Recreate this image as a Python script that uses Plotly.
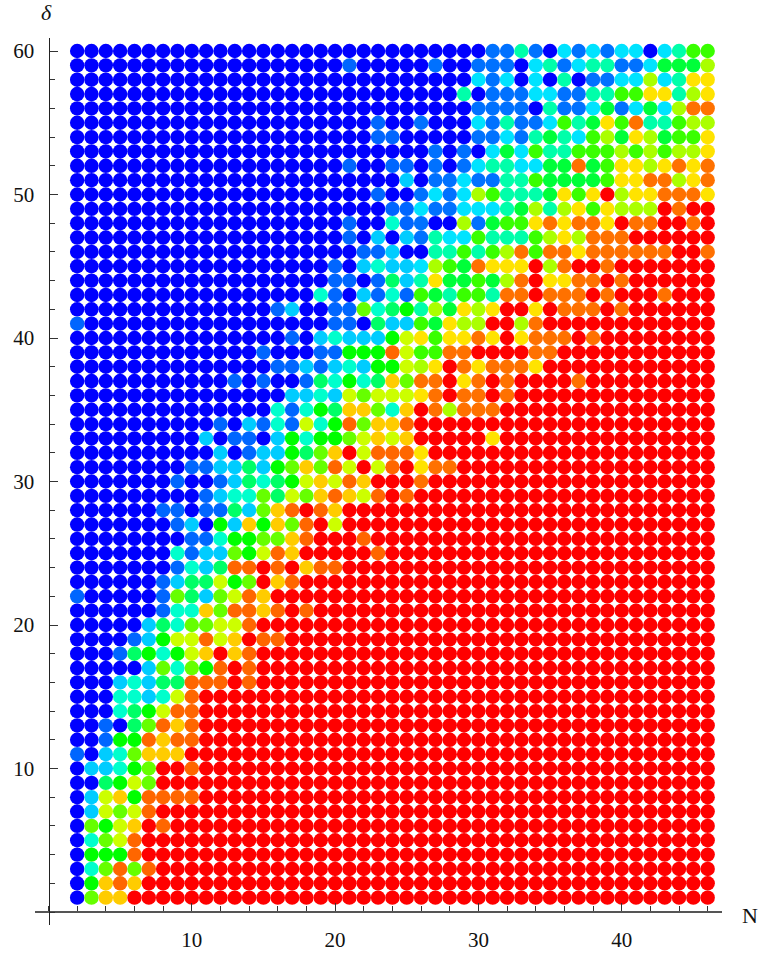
import plotly.graph_objects as go

N_VALUES = list(range(2, 47))
DELTA_VALUES = list(range(60, 0, -1))
X_TICKS = [10, 20, 30, 40]
Y_TICKS = [10, 20, 30, 40, 50, 60]
X_TITLE = "N"
Y_TITLE = "δ"

# Scores for N = 2..25, one string per delta from 60 down to 1 (scale 0..10, a = 10)
LOW_N = [
    "0"*24, "0"*19+"10000", "0"*24, "0"*24, "0"*24, "0"*21+"100",
    "0"*21+"110", "0"*24, "0"*19+"10011", "0"*23+"2",
    "0"*21+"100", "0"*22+"11", "0"*19+"10031", "0"*19+"10202", "0"*20+"1120",
    "0"*18+"102322", "0"*18+"110142", "0"*17+"3102131", "0"*14+"1200116345", "1"+"0"*17+"110422",
    "0"*15+"102322257", "0"*13+"10001155597", "0"*14+"1121232557", "0"*11+"1010014353486", "0"*15+"223276777",
    "0"*14+"3135488638", "0"*10+"10213173596889", "0"*9+"201102535567878", "0"*10+"201225468a7999", "0"*8+"112242568697a79a",
    "0"*7+"10012434578798aaa", "0"*9+"1233647689879a9", "0"*6+"1101142689a98aaaaa", "0"*7+"1205285869a7aaaaa", "0"*8+"113556689aaa9aaa",
    "0"*7+"312265798aaaaa9aa", "0"*7+"132499a9a899aaaaa", "0"*6+"1244756a89"+"a"*8, "100000"+"16426798"+"a"*10, "0"*6+"133869989a9"+"a"*7,
    "0"*5+"24366779"+"a"*11, "0"*4+"12577978a99"+"a"*9, "000"+"1453578a89"+"a"*11, "0"*5+"263659a9"+"a"*11, "000"+"23244999a9"+"a"*11,
    "000"+"332379"+"a"*15, "000"+"345799"+"a"*15, "00"+"1046989"+"a"*15, "00"+"1559899"+"a"*15, "10236888a"+"a"*15,
    "022356aa9"+"a"*15, "004576aaa"+"a"*15, "027859999"+"a"*15, "027679aaa"+"a"*15, "06578a9aa"+"a"*15,
    "03679aaaa"+"a"*15, "05559aaaa"+"a"*15, "036969aaa"+"a"*15, "05898aaaa"+"a"*15, "0688aaaaa"+"a"*15,
]

# Scores for N = 26..46, same row order (scale 0..9)
HIGH_N = [
    "000001131021212202355", "010011102312331124446", "000021202030112262377", "000301112211335577367", "000011110311241242688",
    "100021311253475833566", "000011213432564764557", "010102425335556565667", "010123322448457767878", "011211335444457788678",
    "121265333475796778887", "211222346367576669899", "100614557878879889989", "132253335676888999999", "033535685887888888998",
    "265487779689989999999", "374454689778898999999", "543553889888989998999", "364767997988898999999", "547669968999999999999",
    "757787978889899999999", "558899998899999999999", "679878887999999999999", "889789899998999999999", "789889899999999999999",
    "986888999999999999999", "9"*21, "999997"+"9"*15, "7"+"9"*20, "788"+"9"*18,
    "8"+"9"*20,
] + ["9"*21] * 29

HUE_STOPS = [[0, "#0000ff"], [0.25, "#00ffff"], [0.5, "#00ff00"], [0.75, "#ffff00"], [1, "#ff0000"]]

xs, ys, cs = [], [], []
for d, lo, hi in zip(DELTA_VALUES, LOW_N, HIGH_N):
    assert len(lo) == 24, (d, lo, len(lo))
    assert len(hi) == 21, (d, hi, len(hi))
    for n, ch in zip(N_VALUES, lo + hi):
        xs.append(n)
        ys.append(d)
        cs.append(int(ch, 16) / (10 if n <= 25 else 9))

W, H = 760, 955
L, R, T, B = 35, 722, 38, 925
PX_X, PX_Y = 14.33, 14.35
X0, Y0 = 48.5, 912

fig = go.Figure(go.Scatter(
    x=xs, y=ys, mode="markers",
    marker=dict(size=14.4, color=cs, colorscale=HUE_STOPS, cmin=0, cmax=1, line=dict(width=0)),
    hoverinfo="skip",
))

font = dict(family="Liberation Serif", size=21, color="#111111")
fig.update_layout(
    width=W, height=H, showlegend=False,
    margin=dict(l=L, r=W - R, t=T, b=H - B, autoexpand=False),
    paper_bgcolor="white", plot_bgcolor="white",
    xaxis=dict(
        range=[(L - X0) / PX_X, (R - X0) / PX_X], anchor="free", position=(B - Y0) / (B - T),
        showgrid=False, zeroline=False, showline=True, linecolor="#555555", linewidth=1.5,
        tickmode="array", tickvals=X_TICKS, ticktext=[str(v) for v in X_TICKS],
        ticks="inside", ticklen=8, tickcolor="#333333", tickwidth=1, tickfont=font, ticklabelstandoff=9,
        minor=dict(tickmode="linear", tick0=0, dtick=2, ticks="inside", ticklen=5, tickcolor="#333333", tickwidth=1, showgrid=False),
    ),
    yaxis=dict(
        range=[(Y0 - B) / PX_Y, (Y0 - T) / PX_Y], anchor="free", position=(X0 - L) / (R - L),
        showgrid=False, zeroline=False, showline=True, linecolor="#222222", linewidth=1,
        tickmode="array", tickvals=Y_TICKS, ticktext=[str(v) for v in Y_TICKS],
        ticks="inside", ticklen=8, tickcolor="#333333", tickwidth=1, tickfont=font, ticklabelstandoff=10,
        minor=dict(tickmode="linear", tick0=0, dtick=2, ticks="inside", ticklen=5, tickcolor="#333333", tickwidth=1, showgrid=False),
    ),
    annotations=[
        dict(text=X_TITLE, xref="paper", yref="paper", x=(750 - L) / (R - L), y=(B - 915) / (B - T),
             showarrow=False, font=dict(family="Liberation Serif", size=22, color="#111111"), xanchor="center", yanchor="middle"),
        dict(text="<i>" + Y_TITLE + "</i>", xref="paper", yref="paper", x=(46 - L) / (R - L), y=(B - 12) / (B - T),
             showarrow=False, font=dict(family="Liberation Serif", size=22, color="#111111"), xanchor="center", yanchor="middle"),
    ],
)

fig.write_html("out.html", post_script="document.body.style.margin='0';", config=dict(displayModeBar=False))
